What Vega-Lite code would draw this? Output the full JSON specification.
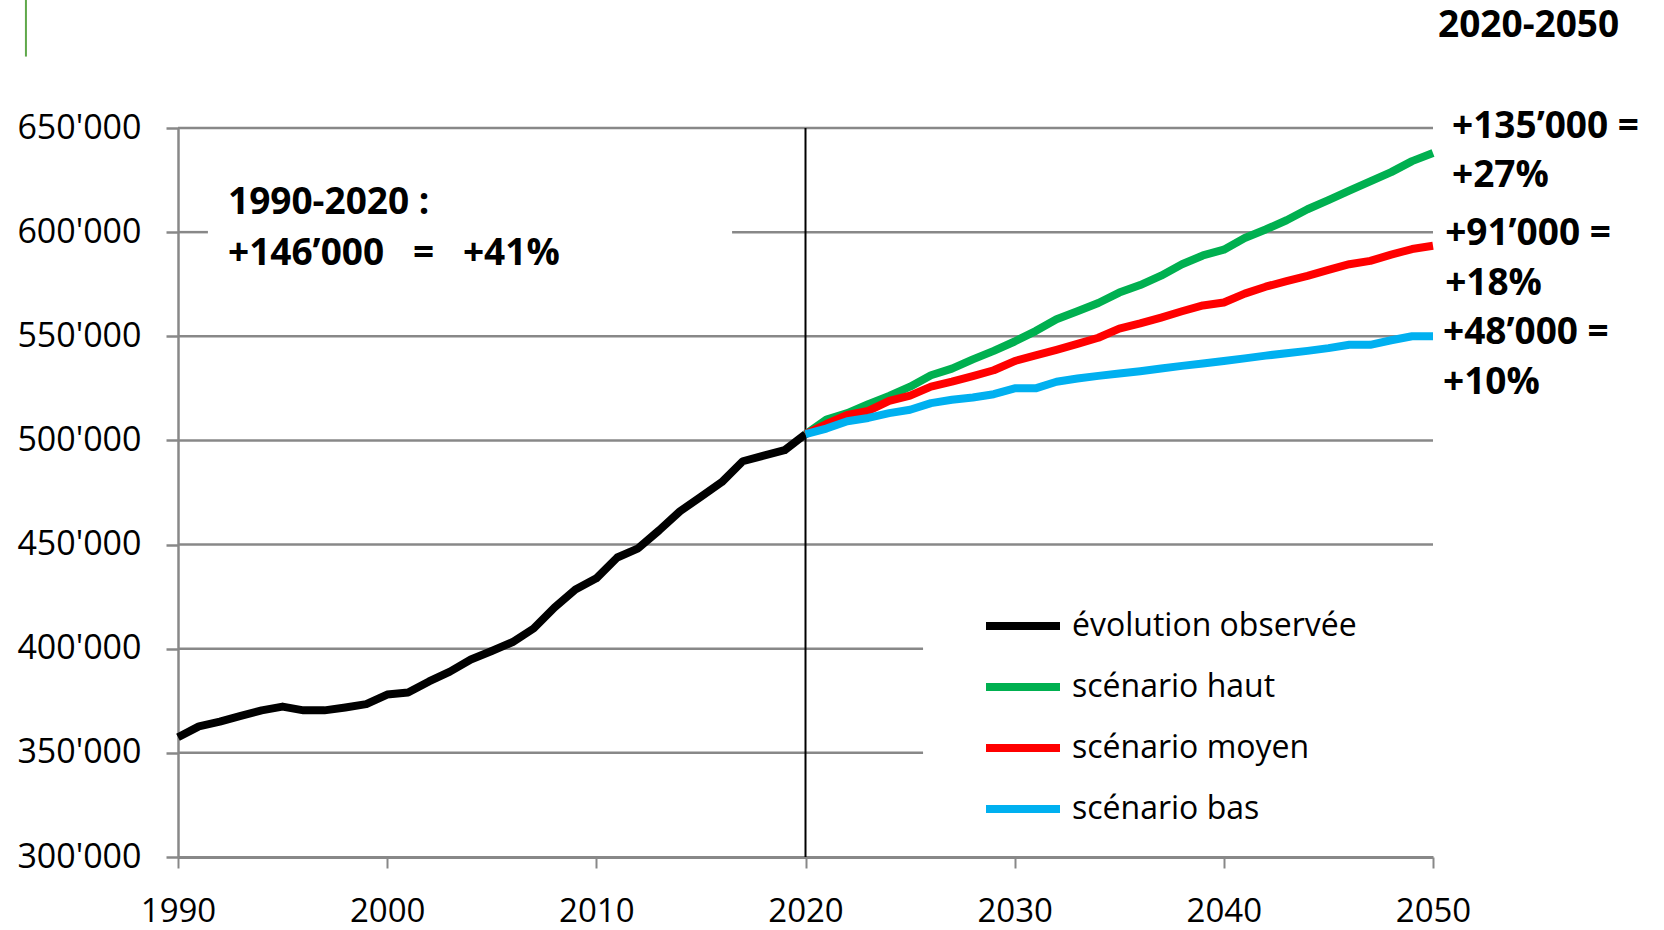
{
  "$schema": "https://vega.github.io/schema/vega-lite/v6.json",
  "autosize": {"type": "none"},
  "padding": {"left": 178, "top": 128, "right": 231, "bottom": 73},
  "width": 1255,
  "height": 729,
  "background": "white",
  "config": {
    "view": {"stroke": null},
    "font": "Open Sans"
  },
  "datasets": {
    "series": [
      {"year": 1990, "value": 357500, "s": "évolution observée"},
      {"year": 1991, "value": 362700, "s": "évolution observée"},
      {"year": 1992, "value": 365000, "s": "évolution observée"},
      {"year": 1993, "value": 367800, "s": "évolution observée"},
      {"year": 1994, "value": 370400, "s": "évolution observée"},
      {"year": 1995, "value": 372200, "s": "évolution observée"},
      {"year": 1996, "value": 370400, "s": "évolution observée"},
      {"year": 1997, "value": 370400, "s": "évolution observée"},
      {"year": 1998, "value": 371800, "s": "évolution observée"},
      {"year": 1999, "value": 373400, "s": "évolution observée"},
      {"year": 2000, "value": 378000, "s": "évolution observée"},
      {"year": 2001, "value": 379000, "s": "évolution observée"},
      {"year": 2002, "value": 384300, "s": "évolution observée"},
      {"year": 2003, "value": 389000, "s": "évolution observée"},
      {"year": 2004, "value": 394800, "s": "évolution observée"},
      {"year": 2005, "value": 398900, "s": "évolution observée"},
      {"year": 2006, "value": 403200, "s": "évolution observée"},
      {"year": 2007, "value": 409700, "s": "évolution observée"},
      {"year": 2008, "value": 419800, "s": "évolution observée"},
      {"year": 2009, "value": 428400, "s": "évolution observée"},
      {"year": 2010, "value": 433800, "s": "évolution observée"},
      {"year": 2011, "value": 443800, "s": "évolution observée"},
      {"year": 2012, "value": 448200, "s": "évolution observée"},
      {"year": 2013, "value": 456800, "s": "évolution observée"},
      {"year": 2014, "value": 466000, "s": "évolution observée"},
      {"year": 2015, "value": 473000, "s": "évolution observée"},
      {"year": 2016, "value": 480000, "s": "évolution observée"},
      {"year": 2017, "value": 490000, "s": "évolution observée"},
      {"year": 2018, "value": 492700, "s": "évolution observée"},
      {"year": 2019, "value": 495300, "s": "évolution observée"},
      {"year": 2020, "value": 503000, "s": "évolution observée"},

      {"year": 2020, "value": 503000, "s": "scénario haut"},
      {"year": 2021, "value": 510000, "s": "scénario haut"},
      {"year": 2022, "value": 513100, "s": "scénario haut"},
      {"year": 2023, "value": 517400, "s": "scénario haut"},
      {"year": 2024, "value": 521400, "s": "scénario haut"},
      {"year": 2025, "value": 525800, "s": "scénario haut"},
      {"year": 2026, "value": 531300, "s": "scénario haut"},
      {"year": 2027, "value": 534500, "s": "scénario haut"},
      {"year": 2028, "value": 538900, "s": "scénario haut"},
      {"year": 2029, "value": 543000, "s": "scénario haut"},
      {"year": 2030, "value": 547500, "s": "scénario haut"},
      {"year": 2031, "value": 552500, "s": "scénario haut"},
      {"year": 2032, "value": 558200, "s": "scénario haut"},
      {"year": 2033, "value": 562000, "s": "scénario haut"},
      {"year": 2034, "value": 566000, "s": "scénario haut"},
      {"year": 2035, "value": 571000, "s": "scénario haut"},
      {"year": 2036, "value": 574600, "s": "scénario haut"},
      {"year": 2037, "value": 579100, "s": "scénario haut"},
      {"year": 2038, "value": 584600, "s": "scénario haut"},
      {"year": 2039, "value": 588800, "s": "scénario haut"},
      {"year": 2040, "value": 591600, "s": "scénario haut"},
      {"year": 2041, "value": 597200, "s": "scénario haut"},
      {"year": 2042, "value": 601300, "s": "scénario haut"},
      {"year": 2043, "value": 605700, "s": "scénario haut"},
      {"year": 2044, "value": 611000, "s": "scénario haut"},
      {"year": 2045, "value": 615400, "s": "scénario haut"},
      {"year": 2046, "value": 619900, "s": "scénario haut"},
      {"year": 2047, "value": 624400, "s": "scénario haut"},
      {"year": 2048, "value": 628800, "s": "scénario haut"},
      {"year": 2049, "value": 634100, "s": "scénario haut"},
      {"year": 2050, "value": 638000, "s": "scénario haut"},

      {"year": 2020, "value": 503000, "s": "scénario moyen"},
      {"year": 2021, "value": 507900, "s": "scénario moyen"},
      {"year": 2022, "value": 512300, "s": "scénario moyen"},
      {"year": 2023, "value": 514200, "s": "scénario moyen"},
      {"year": 2024, "value": 519000, "s": "scénario moyen"},
      {"year": 2025, "value": 521500, "s": "scénario moyen"},
      {"year": 2026, "value": 525800, "s": "scénario moyen"},
      {"year": 2027, "value": 528200, "s": "scénario moyen"},
      {"year": 2028, "value": 530900, "s": "scénario moyen"},
      {"year": 2029, "value": 533700, "s": "scénario moyen"},
      {"year": 2030, "value": 538100, "s": "scénario moyen"},
      {"year": 2031, "value": 540800, "s": "scénario moyen"},
      {"year": 2032, "value": 543500, "s": "scénario moyen"},
      {"year": 2033, "value": 546400, "s": "scénario moyen"},
      {"year": 2034, "value": 549300, "s": "scénario moyen"},
      {"year": 2035, "value": 553700, "s": "scénario moyen"},
      {"year": 2036, "value": 556200, "s": "scénario moyen"},
      {"year": 2037, "value": 559000, "s": "scénario moyen"},
      {"year": 2038, "value": 562000, "s": "scénario moyen"},
      {"year": 2039, "value": 564800, "s": "scénario moyen"},
      {"year": 2040, "value": 566200, "s": "scénario moyen"},
      {"year": 2041, "value": 570500, "s": "scénario moyen"},
      {"year": 2042, "value": 573800, "s": "scénario moyen"},
      {"year": 2043, "value": 576500, "s": "scénario moyen"},
      {"year": 2044, "value": 579000, "s": "scénario moyen"},
      {"year": 2045, "value": 581900, "s": "scénario moyen"},
      {"year": 2046, "value": 584600, "s": "scénario moyen"},
      {"year": 2047, "value": 586200, "s": "scénario moyen"},
      {"year": 2048, "value": 589200, "s": "scénario moyen"},
      {"year": 2049, "value": 591900, "s": "scénario moyen"},
      {"year": 2050, "value": 593500, "s": "scénario moyen"},

      {"year": 2020, "value": 503000, "s": "scénario bas"},
      {"year": 2021, "value": 505700, "s": "scénario bas"},
      {"year": 2022, "value": 509200, "s": "scénario bas"},
      {"year": 2023, "value": 510800, "s": "scénario bas"},
      {"year": 2024, "value": 513100, "s": "scénario bas"},
      {"year": 2025, "value": 514700, "s": "scénario bas"},
      {"year": 2026, "value": 517900, "s": "scénario bas"},
      {"year": 2027, "value": 519500, "s": "scénario bas"},
      {"year": 2028, "value": 520600, "s": "scénario bas"},
      {"year": 2029, "value": 522200, "s": "scénario bas"},
      {"year": 2030, "value": 525000, "s": "scénario bas"},
      {"year": 2031, "value": 525000, "s": "scénario bas"},
      {"year": 2032, "value": 528200, "s": "scénario bas"},
      {"year": 2033, "value": 529700, "s": "scénario bas"},
      {"year": 2034, "value": 531000, "s": "scénario bas"},
      {"year": 2035, "value": 532100, "s": "scénario bas"},
      {"year": 2036, "value": 533200, "s": "scénario bas"},
      {"year": 2037, "value": 534500, "s": "scénario bas"},
      {"year": 2038, "value": 535800, "s": "scénario bas"},
      {"year": 2039, "value": 536900, "s": "scénario bas"},
      {"year": 2040, "value": 538100, "s": "scénario bas"},
      {"year": 2041, "value": 539400, "s": "scénario bas"},
      {"year": 2042, "value": 540700, "s": "scénario bas"},
      {"year": 2043, "value": 541900, "s": "scénario bas"},
      {"year": 2044, "value": 543000, "s": "scénario bas"},
      {"year": 2045, "value": 544300, "s": "scénario bas"},
      {"year": 2046, "value": 545900, "s": "scénario bas"},
      {"year": 2047, "value": 545900, "s": "scénario bas"},
      {"year": 2048, "value": 548100, "s": "scénario bas"},
      {"year": 2049, "value": 550000, "s": "scénario bas"},
      {"year": 2050, "value": 550000, "s": "scénario bas"}
    ],
    "grid": [
      {"y": 650000, "x1": 1990, "x2": 2050},
      {"y": 600000, "x1": 1990, "x2": 1991.43},
      {"y": 600000, "x1": 2016.49, "x2": 2050},
      {"y": 550000, "x1": 1990, "x2": 2050},
      {"y": 500000, "x1": 1990, "x2": 2050},
      {"y": 450000, "x1": 1990, "x2": 2050},
      {"y": 400000, "x1": 1990, "x2": 2025.62},
      {"y": 350000, "x1": 1990, "x2": 2025.62}
    ],
    "vline": [
      {"x": 2020, "y1": 300000, "y2": 650000}
    ],
    "deco": [
      {"x": 1982.73, "y1": 684300, "y2": 711700}
    ],
    "notes": [
      {"x": 1992.39, "y": 614200, "t": "1990-2020 :"},
      {"x": 1992.39, "y": 589700, "t": "+146’000\u00a0\u00a0\u00a0=\u00a0\u00a0\u00a0+41%"},
      {"x": 2050.24, "y": 698800, "t": "2020-2050"},
      {"x": 2050.91, "y": 650700, "t": "+135’000 ="},
      {"x": 2050.91, "y": 627100, "t": "+27%"},
      {"x": 2050.58, "y": 599300, "t": "+91’000 ="},
      {"x": 2050.58, "y": 575300, "t": "+18%"},
      {"x": 2050.48, "y": 551800, "t": "+48’000 ="},
      {"x": 2050.48, "y": 527700, "t": "+10%"}
    ]
  },
  "layer": [
    {
      "data": {"name": "grid"},
      "mark": {"type": "rule", "color": "#888888", "strokeWidth": 2.5},
      "encoding": {
        "x": {"field": "x1", "type": "quantitative", "scale": {"domain": [1990, 2050], "nice": false, "zero": false},
          "axis": {"values": [1990, 2000, 2010, 2020, 2030, 2040, 2050], "format": "d", "title": null, "grid": false,
            "labelFont": "Open Sans", "labelFontSize": 33, "labelColor": "#000000", "labelPadding": 27, "labelFlush": false,
            "tickColor": "#888888", "tickSize": 11, "tickWidth": 2, "domainColor": "#888888", "domainWidth": 3}},
        "x2": {"field": "x2"},
        "y": {"field": "y", "type": "quantitative", "scale": {"domain": [300000, 650000], "nice": false, "zero": false},
          "axis": {"values": [300000, 350000, 400000, 450000, 500000, 550000, 600000, 650000], "title": null, "grid": false,
            "labelExpr": "format(datum.value / 1000, 'd') + \"'000\"",
            "labelFont": "Open Sans", "labelFontSize": 34, "labelColor": "#000000", "labelPadding": 25, "labelFlush": false,
            "tickColor": "#888888", "tickSize": 12, "tickWidth": 2.5, "domainColor": "#888888", "domainWidth": 2.5}}
      }
    },
    {
      "data": {"name": "vline"},
      "mark": {"type": "rule", "color": "#000000", "strokeWidth": 2},
      "encoding": {
        "x": {"field": "x", "type": "quantitative"},
        "y": {"field": "y1", "type": "quantitative"},
        "y2": {"field": "y2"}
      }
    },
    {
      "data": {"name": "deco"},
      "mark": {"type": "rule", "color": "#5FA84A", "strokeWidth": 2},
      "encoding": {
        "x": {"field": "x", "type": "quantitative"},
        "y": {"field": "y1", "type": "quantitative"},
        "y2": {"field": "y2"}
      }
    },
    {
      "data": {"name": "series"},
      "mark": {"type": "line", "strokeWidth": 8, "strokeJoin": "round"},
      "encoding": {
        "x": {"field": "year", "type": "quantitative"},
        "y": {"field": "value", "type": "quantitative"},
        "color": {"field": "s", "type": "nominal",
          "scale": {"domain": ["évolution observée", "scénario haut", "scénario moyen", "scénario bas"],
                    "range": ["#000000", "#00B050", "#FF0000", "#00B0F0"]},
          "legend": {"orient": "none", "legendX": 804, "legendY": 457, "title": null, "padding": 0,
            "symbolType": "stroke", "symbolSize": 5476, "symbolStrokeWidth": 8,
            "labelFont": "Open Sans", "labelFontSize": 32, "labelColor": "#000000", "labelOffset": 8, "labelLimit": 0,
            "rowPadding": 4}}
      }
    },
    {
      "data": {"name": "notes"},
      "mark": {"type": "text", "align": "left", "baseline": "middle", "font": "Open Sans", "fontWeight": "bold", "fontSize": 37, "color": "#000000"},
      "encoding": {
        "x": {"field": "x", "type": "quantitative"},
        "y": {"field": "y", "type": "quantitative"},
        "text": {"field": "t"}
      }
    }
  ]
}
